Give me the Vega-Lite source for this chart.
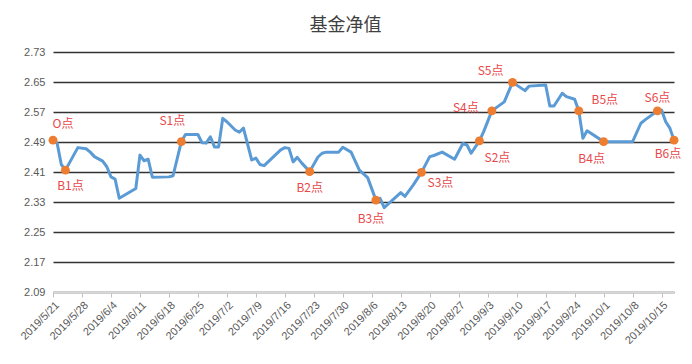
{
  "$schema": "https://vega.github.io/schema/vega-lite/v6.json",
  "width": 621,
  "height": 240,
  "autosize": {"type": "none"},
  "padding": {"left": 53, "top": 52, "right": 18, "bottom": 72},
  "background": "white",
  "config": {"view": {"stroke": null}, "font": "Liberation Sans"},
  "title": {"text": "基金净值", "anchor": "middle", "dx": -18, "offset": 11, "baseline": "top", "fontSize": 18, "font": "Noto Sans CJK SC", "fontWeight": "normal", "color": "#404040"},
  "data": {"values": [
    {"date": "2019/05/21", "value": 2.495, "label": "O点"},
    {"date": "2019/05/22", "value": 2.487, "label": ""},
    {"date": "2019/05/23", "value": 2.430, "label": ""},
    {"date": "2019/05/24", "value": 2.415, "label": "B1点"},
    {"date": "2019/05/27", "value": 2.475, "label": ""},
    {"date": "2019/05/29", "value": 2.472, "label": ""},
    {"date": "2019/05/30", "value": 2.463, "label": ""},
    {"date": "2019/05/31", "value": 2.451, "label": ""},
    {"date": "2019/06/02", "value": 2.439, "label": ""},
    {"date": "2019/06/03", "value": 2.424, "label": ""},
    {"date": "2019/06/04", "value": 2.397, "label": ""},
    {"date": "2019/06/05", "value": 2.391, "label": ""},
    {"date": "2019/06/06", "value": 2.340, "label": ""},
    {"date": "2019/06/10", "value": 2.366, "label": ""},
    {"date": "2019/06/11", "value": 2.455, "label": ""},
    {"date": "2019/06/12", "value": 2.440, "label": ""},
    {"date": "2019/06/13", "value": 2.444, "label": ""},
    {"date": "2019/06/14", "value": 2.396, "label": ""},
    {"date": "2019/06/18", "value": 2.397, "label": ""},
    {"date": "2019/06/19", "value": 2.400, "label": ""},
    {"date": "2019/06/21", "value": 2.491, "label": "S1点"},
    {"date": "2019/06/22", "value": 2.510, "label": ""},
    {"date": "2019/06/25", "value": 2.510, "label": ""},
    {"date": "2019/06/26", "value": 2.488, "label": ""},
    {"date": "2019/06/27", "value": 2.487, "label": ""},
    {"date": "2019/06/28", "value": 2.504, "label": ""},
    {"date": "2019/06/29", "value": 2.477, "label": ""},
    {"date": "2019/06/30", "value": 2.477, "label": ""},
    {"date": "2019/07/01", "value": 2.553, "label": ""},
    {"date": "2019/07/02", "value": 2.544, "label": ""},
    {"date": "2019/07/04", "value": 2.522, "label": ""},
    {"date": "2019/07/05", "value": 2.516, "label": ""},
    {"date": "2019/07/06", "value": 2.527, "label": ""},
    {"date": "2019/07/08", "value": 2.442, "label": ""},
    {"date": "2019/07/09", "value": 2.447, "label": ""},
    {"date": "2019/07/10", "value": 2.430, "label": ""},
    {"date": "2019/07/11", "value": 2.427, "label": ""},
    {"date": "2019/07/15", "value": 2.469, "label": ""},
    {"date": "2019/07/16", "value": 2.475, "label": ""},
    {"date": "2019/07/17", "value": 2.473, "label": ""},
    {"date": "2019/07/18", "value": 2.437, "label": ""},
    {"date": "2019/07/19", "value": 2.449, "label": ""},
    {"date": "2019/07/20", "value": 2.435, "label": ""},
    {"date": "2019/07/22", "value": 2.411, "label": "B2点"},
    {"date": "2019/07/24", "value": 2.450, "label": ""},
    {"date": "2019/07/25", "value": 2.460, "label": ""},
    {"date": "2019/07/26", "value": 2.463, "label": ""},
    {"date": "2019/07/29", "value": 2.463, "label": ""},
    {"date": "2019/07/30", "value": 2.476, "label": ""},
    {"date": "2019/08/01", "value": 2.463, "label": ""},
    {"date": "2019/08/03", "value": 2.415, "label": ""},
    {"date": "2019/08/05", "value": 2.395, "label": ""},
    {"date": "2019/08/07", "value": 2.335, "label": "B3点"},
    {"date": "2019/08/08", "value": 2.340, "label": ""},
    {"date": "2019/08/09", "value": 2.315, "label": ""},
    {"date": "2019/08/13", "value": 2.355, "label": ""},
    {"date": "2019/08/14", "value": 2.345, "label": ""},
    {"date": "2019/08/16", "value": 2.375, "label": ""},
    {"date": "2019/08/18", "value": 2.409, "label": "S3点"},
    {"date": "2019/08/20", "value": 2.451, "label": ""},
    {"date": "2019/08/21", "value": 2.454, "label": ""},
    {"date": "2019/08/23", "value": 2.463, "label": ""},
    {"date": "2019/08/26", "value": 2.444, "label": ""},
    {"date": "2019/08/28", "value": 2.486, "label": ""},
    {"date": "2019/08/29", "value": 2.482, "label": ""},
    {"date": "2019/08/30", "value": 2.460, "label": ""},
    {"date": "2019/09/01", "value": 2.493, "label": "S2点"},
    {"date": "2019/09/02", "value": 2.517, "label": ""},
    {"date": "2019/09/04", "value": 2.573, "label": "S4点"},
    {"date": "2019/09/06", "value": 2.589, "label": ""},
    {"date": "2019/09/07", "value": 2.597, "label": ""},
    {"date": "2019/09/09", "value": 2.649, "label": "S5点"},
    {"date": "2019/09/12", "value": 2.627, "label": ""},
    {"date": "2019/09/13", "value": 2.639, "label": ""},
    {"date": "2019/09/17", "value": 2.642, "label": ""},
    {"date": "2019/09/18", "value": 2.586, "label": ""},
    {"date": "2019/09/19", "value": 2.586, "label": ""},
    {"date": "2019/09/21", "value": 2.620, "label": ""},
    {"date": "2019/09/22", "value": 2.611, "label": ""},
    {"date": "2019/09/24", "value": 2.604, "label": ""},
    {"date": "2019/09/25", "value": 2.573, "label": "B5点"},
    {"date": "2019/09/26", "value": 2.500, "label": ""},
    {"date": "2019/09/27", "value": 2.520, "label": ""},
    {"date": "2019/10/01", "value": 2.491, "label": "B4点"},
    {"date": "2019/10/08", "value": 2.491, "label": ""},
    {"date": "2019/10/10", "value": 2.540, "label": ""},
    {"date": "2019/10/11", "value": 2.549, "label": ""},
    {"date": "2019/10/14", "value": 2.573, "label": "S6点"},
    {"date": "2019/10/15", "value": 2.575, "label": ""},
    {"date": "2019/10/16", "value": 2.544, "label": ""},
    {"date": "2019/10/17", "value": 2.527, "label": ""},
    {"date": "2019/10/18", "value": 2.495, "label": "B6点"}
  ]},
  "encoding": {
    "x": {
      "field": "date", "type": "temporal",
      "scale": {"domain": [{"year": 2019, "month": 5, "date": 21}, {"year": 2019, "month": 10, "date": 18}]},
      "axis": {
        "values": [
          {"year": 2019, "month": 5, "date": 21}, {"year": 2019, "month": 5, "date": 28},
          {"year": 2019, "month": 6, "date": 4}, {"year": 2019, "month": 6, "date": 11},
          {"year": 2019, "month": 6, "date": 18}, {"year": 2019, "month": 6, "date": 25},
          {"year": 2019, "month": 7, "date": 2}, {"year": 2019, "month": 7, "date": 9},
          {"year": 2019, "month": 7, "date": 16}, {"year": 2019, "month": 7, "date": 23},
          {"year": 2019, "month": 7, "date": 30}, {"year": 2019, "month": 8, "date": 6},
          {"year": 2019, "month": 8, "date": 13}, {"year": 2019, "month": 8, "date": 20},
          {"year": 2019, "month": 8, "date": 27}, {"year": 2019, "month": 9, "date": 3},
          {"year": 2019, "month": 9, "date": 10}, {"year": 2019, "month": 9, "date": 17},
          {"year": 2019, "month": 9, "date": 24}, {"year": 2019, "month": 10, "date": 1},
          {"year": 2019, "month": 10, "date": 8}, {"year": 2019, "month": 10, "date": 15}
        ],
        "format": "%Y/%-m/%-d", "labelAngle": -45, "title": null, "grid": false,
        "domainColor": "#d9d9d9", "domainWidth": 1.5, "tickColor": "#bfbfbf", "tickSize": 5,
        "labelColor": "#595959", "labelFontSize": 11, "labelPadding": 2, "zindex": 1,
        "labelOverlap": false, "labelFlush": false
      }
    },
    "y": {
      "field": "value", "type": "quantitative",
      "scale": {"domain": [2.09, 2.73], "nice": false, "zero": false},
      "axis": {
        "values": [2.09, 2.17, 2.25, 2.33, 2.41, 2.49, 2.57, 2.65, 2.73],
        "format": ".2f", "title": null, "domain": false, "ticks": false, "grid": true,
        "gridColor": "#333333", "gridWidth": 1.5, "labelColor": "#595959", "labelFontSize": 11,
        "labelPadding": 8
      }
    }
  },
  "layer": [
    {"mark": {"type": "line", "color": "#5B9BD5", "strokeWidth": 3, "strokeJoin": "round", "strokeCap": "round"}},
    {"transform": [{"filter": "datum.label !== ''"}], "mark": {"type": "circle", "size": 80, "opacity": 1, "color": "#ED7D31"}},
    {"transform": [{"filter": "datum.label === 'O点'"}], "mark": {"type": "text", "dx": 10, "dy": -16, "color": "#E8474A", "fontSize": 12, "font": "Noto Sans CJK SC"}, "encoding": {"text": {"field": "label"}}},
    {"transform": [{"filter": "datum.label === 'B1点'"}], "mark": {"type": "text", "dx": 5, "dy": 16, "color": "#E8474A", "fontSize": 12, "font": "Noto Sans CJK SC"}, "encoding": {"text": {"field": "label"}}},
    {"transform": [{"filter": "datum.label === 'S1点'"}], "mark": {"type": "text", "dx": -9, "dy": -21, "color": "#E8474A", "fontSize": 12, "font": "Noto Sans CJK SC"}, "encoding": {"text": {"field": "label"}}},
    {"transform": [{"filter": "datum.label === 'B2点'"}], "mark": {"type": "text", "dx": 0, "dy": 16, "color": "#E8474A", "fontSize": 12, "font": "Noto Sans CJK SC"}, "encoding": {"text": {"field": "label"}}},
    {"transform": [{"filter": "datum.label === 'B3点'"}], "mark": {"type": "text", "dx": -5, "dy": 19, "color": "#E8474A", "fontSize": 12, "font": "Noto Sans CJK SC"}, "encoding": {"text": {"field": "label"}}},
    {"transform": [{"filter": "datum.label === 'S3点'"}], "mark": {"type": "text", "dx": 19, "dy": 11, "color": "#E8474A", "fontSize": 12, "font": "Noto Sans CJK SC"}, "encoding": {"text": {"field": "label"}}},
    {"transform": [{"filter": "datum.label === 'S2点'"}], "mark": {"type": "text", "dx": 18, "dy": 17, "color": "#E8474A", "fontSize": 12, "font": "Noto Sans CJK SC"}, "encoding": {"text": {"field": "label"}}},
    {"transform": [{"filter": "datum.label === 'S4点'"}], "mark": {"type": "text", "dx": -26, "dy": -3, "color": "#E8474A", "fontSize": 12, "font": "Noto Sans CJK SC"}, "encoding": {"text": {"field": "label"}}},
    {"transform": [{"filter": "datum.label === 'S5点'"}], "mark": {"type": "text", "dx": -22, "dy": -11, "color": "#E8474A", "fontSize": 12, "font": "Noto Sans CJK SC"}, "encoding": {"text": {"field": "label"}}},
    {"transform": [{"filter": "datum.label === 'B5点'"}], "mark": {"type": "text", "dx": 26, "dy": -11, "color": "#E8474A", "fontSize": 12, "font": "Noto Sans CJK SC"}, "encoding": {"text": {"field": "label"}}},
    {"transform": [{"filter": "datum.label === 'B4点'"}], "mark": {"type": "text", "dx": -12, "dy": 17, "color": "#E8474A", "fontSize": 12, "font": "Noto Sans CJK SC"}, "encoding": {"text": {"field": "label"}}},
    {"transform": [{"filter": "datum.label === 'S6点'"}], "mark": {"type": "text", "dx": 0, "dy": -13, "color": "#E8474A", "fontSize": 12, "font": "Noto Sans CJK SC"}, "encoding": {"text": {"field": "label"}}},
    {"transform": [{"filter": "datum.label === 'B6点'"}], "mark": {"type": "text", "dx": -6, "dy": 14, "color": "#E8474A", "fontSize": 12, "font": "Noto Sans CJK SC"}, "encoding": {"text": {"field": "label"}}}
  ]
}
